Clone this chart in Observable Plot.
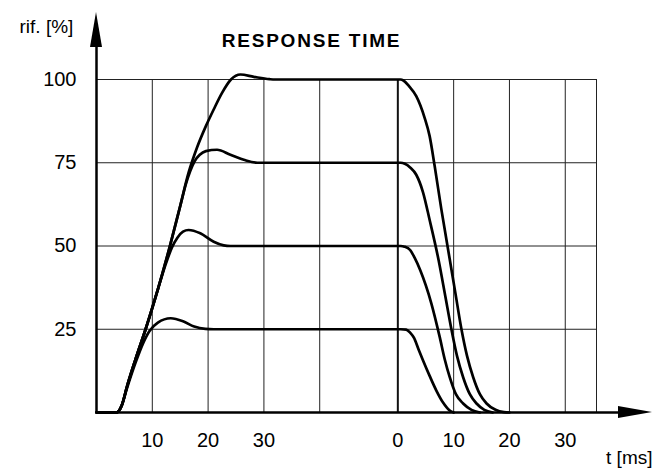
<!DOCTYPE html>
<html>
<head>
<meta charset="utf-8">
<script src="https://cdn.jsdelivr.net/npm/d3@7"></script>
<script src="https://cdn.jsdelivr.net/npm/@observablehq/plot@0.6"></script>
<style>
  html, body { margin: 0; padding: 0; background: #fff; }
  svg { font-family: "Liberation Sans", Arial, sans-serif; }
</style>
</head>
<body>
<div id="chart"></div>
<script>
// ---- data ----
const title = "RESPONSE TIME";
const yLabel = "rif. [%]";
const xLabel = "t [ms]";
const levels = [25, 50, 75, 100];
const riseTicks = [10, 20, 30];          // rise segment tick labels (ms)
const riseGrid = [10, 20, 30, 40];       // rise segment grid lines (ms)
const releaseTicks = [0, 10, 20, 30];    // release segment tick labels (ms)
const releaseOffset = 54;                // rise time (ms) at which release starts
const releaseEnd = 35.6;                 // end of release grid (ms)

// rise curves
const riseT25 = [0, 3.6, 4.5, 5.5, 7, 8.4, 9.5, 11, 13.3, 15.5, 17.5, 19.5, 21, 54];
const riseV25 = [0, 0, 2, 7.5, 15, 21, 24.5, 27, 28.3, 27.4, 25.8, 25.1, 25, 25];
const riseT50 = [0, 3.6, 4.5, 5.5, 7, 8.8, 11, 12.5, 13.5, 14.5, 15.5, 16.5, 18.6, 21, 22.8, 24, 54];
const riseV50 = [0, 0, 2, 8, 16, 25, 37, 45, 49.5, 52.5, 54.3, 54.8, 53.8, 51.3, 50.2, 50, 50];
const riseT75 = [0, 3.6, 4.5, 5.5, 7, 8.8, 11, 13, 15, 16, 16.8, 17.6, 18.5, 19.6, 21.6, 24, 26.4, 28.8, 30, 54];
const riseV75 = [0, 0, 2, 8, 16, 25, 37, 49, 62, 68.5, 72.5, 75.5, 77.4, 78.5, 78.9, 77.4, 75.9, 75, 75, 75];
const riseT100 = [0, 3.6, 4.5, 5.5, 7, 8.8, 11, 13, 15, 16.5, 18, 19.6, 21, 22.5, 24.1, 25.8, 28.2, 31, 32, 54];
const riseV100 = [0, 0, 2, 8, 16, 25, 37, 49, 62, 72, 79.5, 86, 91, 96, 100, 101.5, 100.8, 100.1, 100, 100];

// release curves (time from release)
const relT25 = [0, 0.5, 1.5, 2.2, 2.9, 3.7, 4.5, 5.7, 6.9, 8.1, 9.3, 10];
const relV25 = [25, 25, 24.9, 24, 22.4, 19, 15.7, 11, 6.6, 3, 0.6, 0];
const relT50 = [0, 0.5, 1.2, 2.2, 3, 4, 6, 7.5, 8.4, 9.3, 10.4, 11.7, 13.2, 14.7];
const relV50 = [50, 50, 49.8, 48.8, 46.5, 42.8, 32.8, 22.7, 16, 10.6, 5.5, 2.7, 0.8, 0];
const relT75 = [0, 0.5, 1.25, 2.2, 3.3, 4.5, 5.7, 7.3, 8.5, 9.6, 10.6, 11.7, 12.9, 14.1, 15.5, 17];
const relV75 = [75, 75, 74.7, 73.6, 71.4, 66.2, 57.8, 45.8, 35, 25, 17, 10.6, 5.5, 2.7, 0.8, 0];
const relT100 = [0, 0.5, 1, 2, 3.3, 4.8, 5.7, 6.6, 7.8, 9.3, 10.3, 11.4, 12.4, 13.5, 14.7, 15.9, 17.5, 19, 20];
const relV100 = [100, 100, 99.7, 98, 95, 88.5, 83, 74, 61, 46, 36, 25, 17, 10.6, 5.5, 2.7, 0.8, 0.1, 0];

// ---- build table ----
const curves = [
  [25, riseT25, riseV25, relT25, relV25],
  [50, riseT50, riseV50, relT50, relV50],
  [75, riseT75, riseV75, relT75, relV75],
  [100, riseT100, riseV100, relT100, relV100]
];
const rows = [];
for (const [lvl, rt, rv, ft, fv] of curves) {
  rt.forEach((t, i) => rows.push({level: lvl, x: t, y: rv[i]}));
  ft.forEach((t, i) => { if (i > 0) rows.push({level: lvl, x: t + releaseOffset, y: fv[i]}); });
}

const xEnd = releaseOffset + releaseEnd;
const W = 654, H = 470;
const mL = 96, mR = 58, mT = 79, mB = 58;
const pxX = (W - mL - mR) / xEnd;   // px per ms
const pxY = (H - mT - mB) / 100;    // px per %

// axis arrows (in px converted to data units)
const yArrowTip = (412 - 12) / pxY, yArrowBase = (412 - 47) / pxY, yArrowHalf = 6 / pxX;
const xArrowTip = (652 - mL) / pxX, xArrowBase = (618 - mL) / pxX, xArrowHalf = 6 / pxY;

const tickPos = [...riseTicks, ...releaseTicks.map(t => t + releaseOffset)];
const tickLab = [...riseTicks, ...releaseTicks].map(String);
const vGrid = [...riseGrid, ...releaseTicks.filter(t => t > 0).map(t => t + releaseOffset), xEnd];

const plot = Plot.plot({
  width: W, height: H,
  marginLeft: mL, marginRight: mR, marginTop: mT, marginBottom: mB,
  x: {domain: [0, xEnd]},
  y: {domain: [0, 100]},
  style: {fontFamily: '"Liberation Sans", Arial, sans-serif', background: "white"},
  marks: [
    Plot.ruleY(levels, {x1: 0, x2: xEnd, stroke: "#222", strokeWidth: 1}),
    Plot.ruleX(vGrid, {y1: 0, y2: 100, stroke: "#222", strokeWidth: 1}),
    Plot.ruleX([releaseOffset], {y1: 0, y2: 100, stroke: "#111", strokeWidth: 2}),
    Plot.line(rows, {x: "x", y: "y", z: "level", curve: "monotone-x", stroke: "black", strokeWidth: 2.7}),
    // axes lines
    Plot.ruleX([0], {y1: 0, y2: yArrowBase + 1, stroke: "black", strokeWidth: 2.5}),
    Plot.ruleY([0], {x1: 0, x2: xArrowBase + 1, stroke: "black", strokeWidth: 2.5}),
    // arrow heads
    Plot.areaY([
      {x: -yArrowHalf, y1: yArrowBase, y2: yArrowBase},
      {x: 0, y1: yArrowBase, y2: yArrowTip},
      {x: yArrowHalf, y1: yArrowBase, y2: yArrowBase}
    ], {x: "x", y1: "y1", y2: "y2", fill: "black"}),
    Plot.areaX([
      {y: -xArrowHalf, x1: xArrowBase, x2: xArrowBase},
      {y: 0, x1: xArrowBase, x2: xArrowTip},
      {y: xArrowHalf, x1: xArrowBase, x2: xArrowBase}
    ], {y: "y", x1: "x1", x2: "x2", fill: "black"}),
    Plot.axisY({ticks: levels, tickSize: 0, tickPadding: 20, fontSize: 20, label: null}),
    Plot.axisX({ticks: tickPos, tickFormat: (d) => tickLab[tickPos.indexOf(d)], tickSize: 0, tickPadding: 20, fontSize: 20, label: null}),
    Plot.text([title], {text: d => d, frameAnchor: "top-left", dx: 215, dy: -46, textAnchor: "middle", fontSize: 19, fontWeight: "bold", fill: "black"}),
    Plot.text([yLabel], {text: d => d, frameAnchor: "top-left", dx: -77, dy: -60, textAnchor: "start", fontSize: 19, fill: "black"}),
    Plot.text([xLabel], {text: d => d, frameAnchor: "bottom-right", dx: 56, dy: 51, textAnchor: "end", fontSize: 19, fill: "black"})
  ]
});
d3.select(plot).selectAll("text").filter(function () { return this.textContent === title; })
  .attr("letter-spacing", "1.8px");
document.getElementById("chart").appendChild(plot);
</script>
</body>
</html>
